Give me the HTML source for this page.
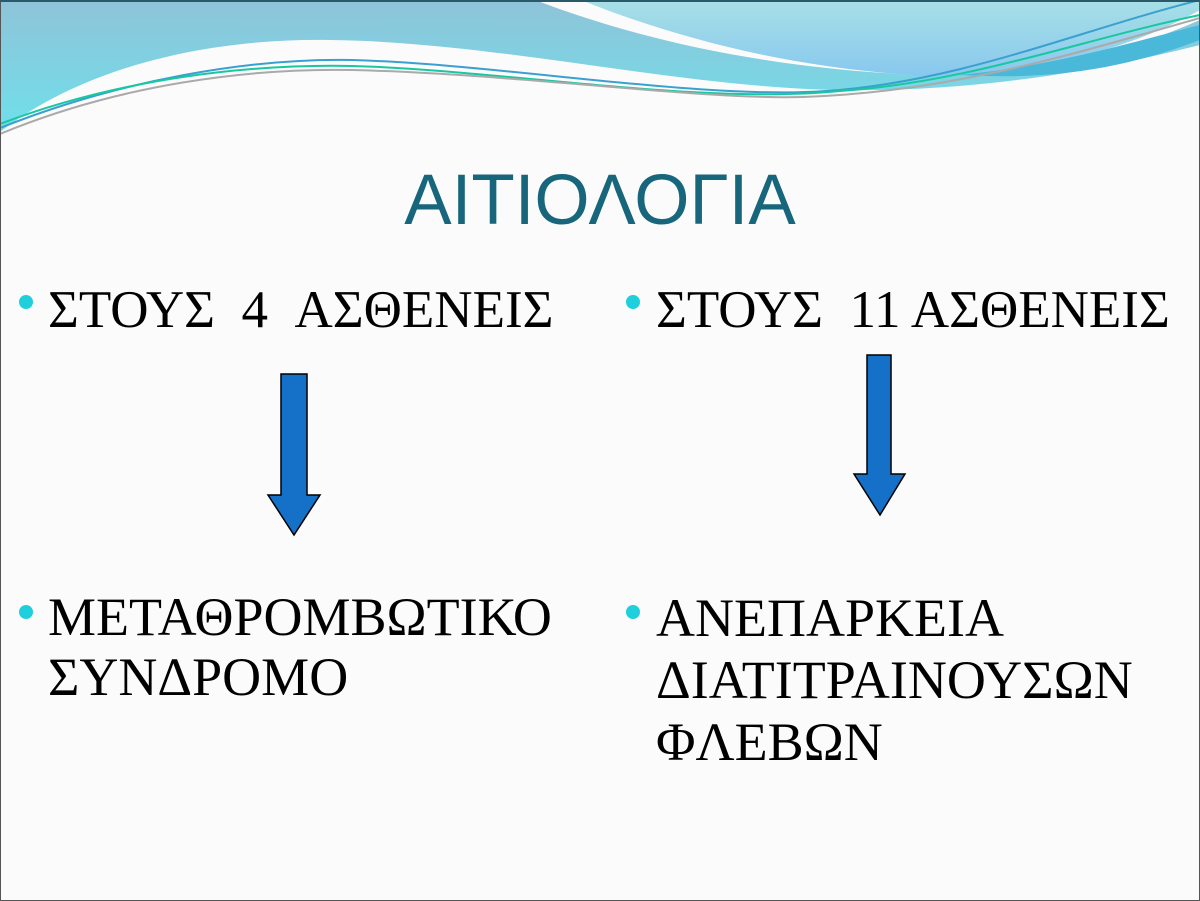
<!DOCTYPE html>
<html><head><meta charset="utf-8"><style>
body{margin:0;width:1200px;height:900px;overflow:hidden;background:#fbfbfb;position:relative;font-family:"Liberation Serif",serif}
.frame{position:absolute;left:0;top:0;width:1198px;height:898px;border:1px solid #555;border-top:2px solid #2a5a6a}
.t{position:absolute;font-size:54px;color:#000;white-space:nowrap;line-height:1}
.b{position:absolute;width:14px;height:14px;border-radius:50%;background:#1fcfdc}
h1{position:absolute;margin:0;left:0;width:1200px;text-align:center;top:160px;font:400 71px "Liberation Sans",sans-serif;color:#17667c}
</style></head><body>
<svg width="1200" height="150" style="position:absolute;left:0;top:0">
<defs>
<linearGradient id="g1" x1="0" y1="0" x2="0" y2="1"><stop offset="0" stop-color="#8fc3d9"/><stop offset="1" stop-color="#6fe0ea"/></linearGradient>
<linearGradient id="g2" x1="0" y1="0" x2="0" y2="1"><stop offset="0" stop-color="#a8e0e6"/><stop offset="1" stop-color="#88c8ee"/></linearGradient>
</defs>
<path d="M0,0 H1200 V45 C1100,70 980,92 842,90 C680,88 500,42 330,40 C200,38 80,70 0,132 Z" fill="url(#g1)"/>
<path d="M535,0 H1200 V20 C1110,60 1000,80 900,74 C760,66 640,40 535,0 Z" fill="#fbfbfb"/>
<path d="M581,0 H1200 V10 C1120,55 1010,78 930,76 C800,70 680,40 581,0 Z" fill="url(#g2)"/>
<path d="M960,75 C1060,65 1140,40 1200,25 V40 C1120,70 1050,80 960,75 Z" fill="#4ab8d8"/>
<path d="M0,128 C120,80 250,58 352,60 C500,64 700,100 826,91 C960,82 1080,30 1200,0" fill="none" stroke="#3aa0d0" stroke-width="2"/>
<path d="M0,124 C120,78 250,64 352,66 C500,70 700,105 840,91 C970,82 1080,40 1200,15" fill="none" stroke="#18c8a0" stroke-width="2"/>
<path d="M0,134 C120,84 250,68 352,70 C520,74 700,100 803,97 C950,92 1070,55 1200,18" fill="none" stroke="#aaa" stroke-width="2"/>
</svg>
<div class="frame"></div>
<h1>ΑΙΤΙΟΛΟΓΙΑ</h1>
<div class="b" style="left:19px;top:295px"></div>
<div class="t" style="left:48px;top:284px;font-size:53px">ΣΤΟΥΣ &nbsp;4 &nbsp;ΑΣΘΕΝΕΙΣ</div>
<div class="b" style="left:626px;top:295px"></div>
<div class="t" style="left:656px;top:284px;font-size:53px">ΣΤΟΥΣ &nbsp;11 ΑΣΘΕΝΕΙΣ</div>
<div class="b" style="left:19px;top:605px"></div>
<div class="t" style="left:48px;top:587px;line-height:60px">ΜΕΤΑΘΡΟΜΒΩΤΙΚΟ<br>ΣΥΝΔΡΟΜΟ</div>
<div class="b" style="left:626px;top:605px"></div>
<div class="t" style="left:656px;top:587px;line-height:62px">ΑΝΕΠΑΡΚΕΙΑ<br>ΔΙΑΤΙΤΡΑΙΝΟΥΣΩΝ<br>ΦΛΕΒΩΝ</div>
<svg width="1200" height="900" style="position:absolute;left:0;top:0">
<polygon points="281,374 307,374 307,495 320,495 294,535 268,495 281,495" fill="#1570c8" stroke="#000" stroke-width="1.5"/>
<polygon points="867,355 891,355 891,474 905,474 880,515 854,474 867,474" fill="#1570c8" stroke="#000" stroke-width="1.5"/>
</svg>
</body></html>
